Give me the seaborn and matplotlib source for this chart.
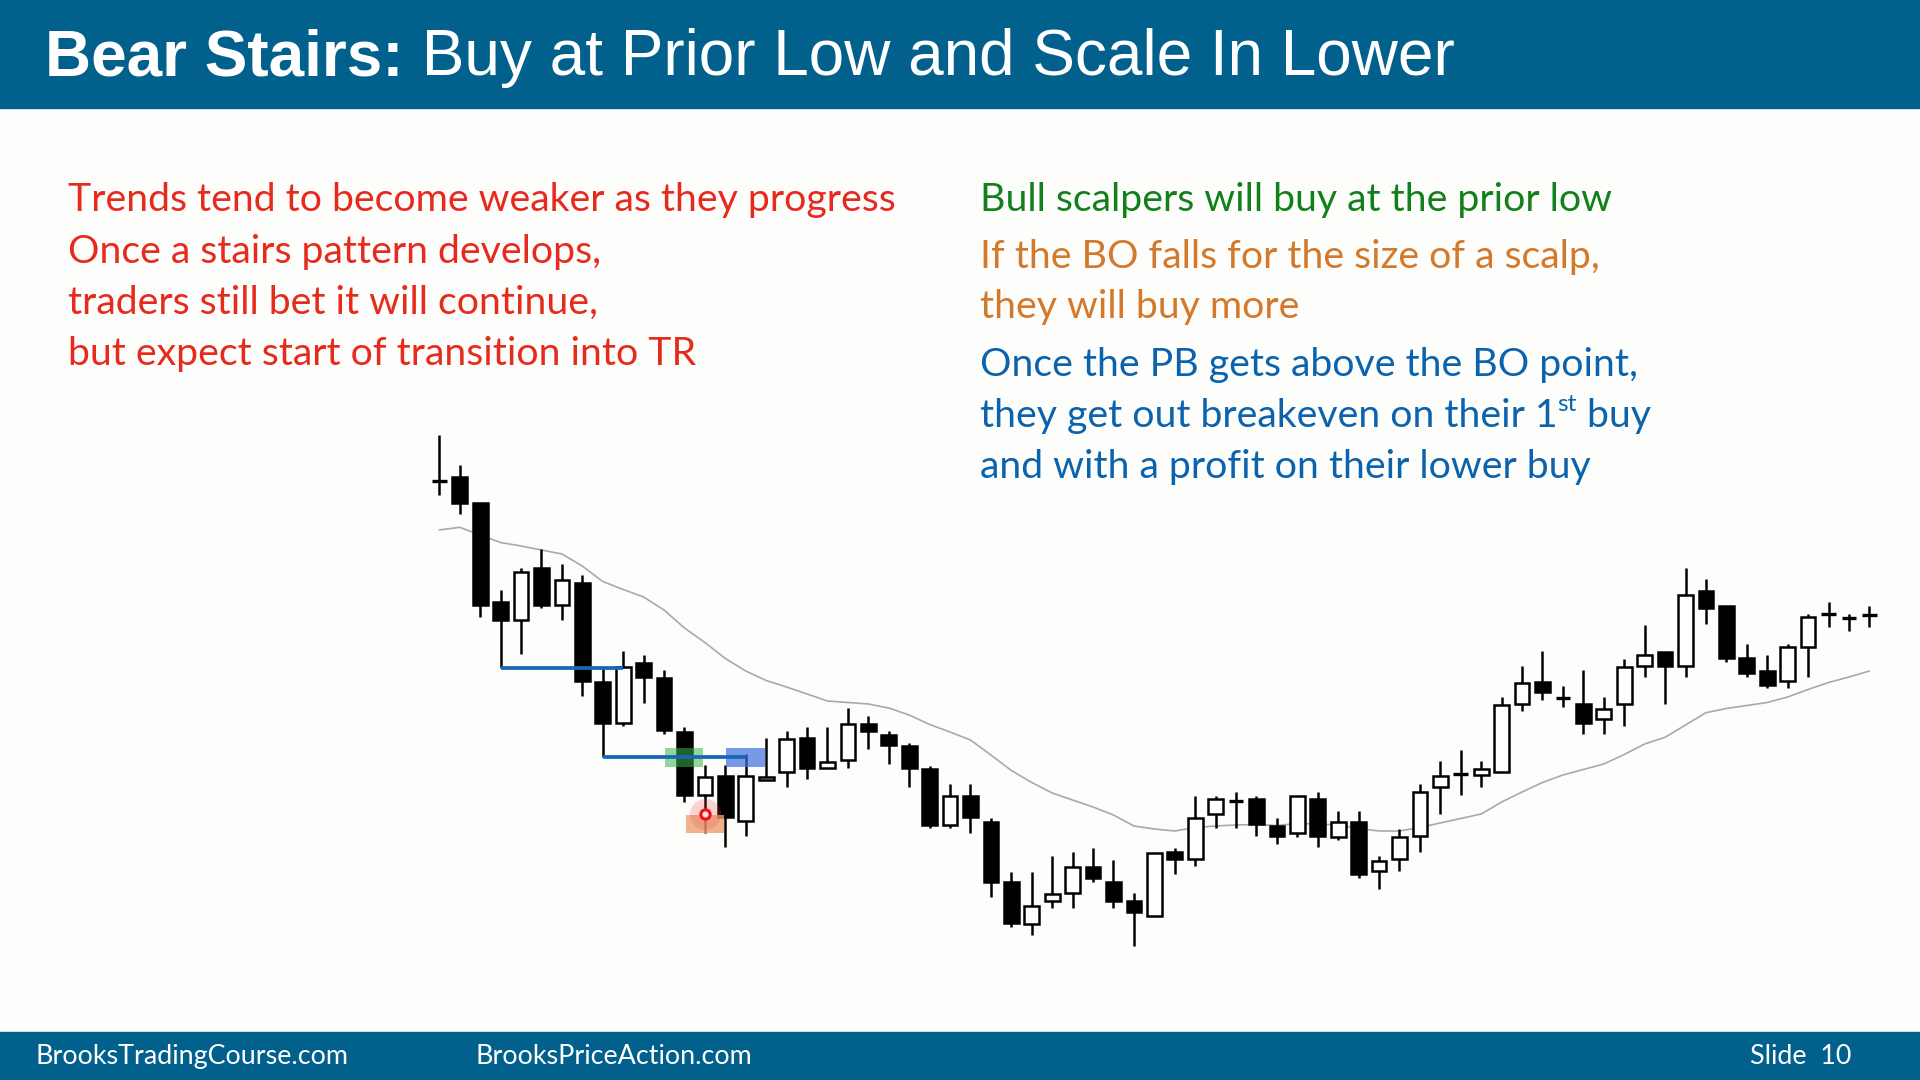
import matplotlib
matplotlib.use("Agg")
import numpy as np
import pandas as pd
import matplotlib.pyplot as plt
import seaborn as sns
from matplotlib.patches import Rectangle

# --- Données des bougies (prix) ---
opens = [519, 523, 497, 398, 380, 432, 395, 417, 318, 277, 337, 322, 268, 205, 224,
         179, 220, 228, 262, 232, 240, 276, 265, 254, 231, 175, 204, 178, 118, 76,
         99, 107, 133, 118, 99, 84, 148, 141, 186, 199, 201, 174, 167, 201, 163,
         178, 129, 141, 164, 213, 226, 225, 228, 296, 318, 302, 296, 281, 296, 334,
         348, 334, 409, 394, 342, 329, 319, 353, 386, 382, 385]
highs = [565, 535, 497, 410, 432, 451, 436, 425, 333, 349, 345, 330, 273, 235, 235,
         246, 262, 269, 273, 273, 292, 284, 269, 257, 234, 216, 216, 182, 128, 128,
         144, 148, 152, 140, 107, 147, 152, 204, 204, 208, 204, 182, 204, 208, 189,
         189, 144, 171, 216, 239, 250, 239, 303, 334, 349, 314, 330, 303, 341, 375,
         348, 432, 421, 394, 356, 345, 356, 386, 398, 386, 394]
lows = [505, 486, 383, 332, 346, 392, 380, 304, 243, 274, 297, 266, 198, 167, 153,
        164, 220, 213, 221, 232, 232, 251, 236, 213, 172, 172, 167, 103, 73, 65,
        92, 92, 118, 92, 54, 84, 126, 134, 172, 172, 164, 156, 163, 153, 160,
        122, 111, 129, 148, 186, 205, 213, 228, 289, 300, 293, 266, 266, 274, 323,
        296, 323, 376, 338, 323, 312, 312, 323, 373, 369, 373]
closes = [519, 497, 395, 380, 428, 395, 420, 319, 277, 333, 323, 270, 205, 223, 183,
          224, 223, 261, 232, 238, 276, 269, 255, 232, 175, 204, 183, 118, 77, 94,
          106, 133, 122, 99, 88, 147, 141, 182, 201, 199, 176, 164, 204, 164, 178,
          126, 139, 163, 208, 224, 226, 231, 295, 317, 308, 302, 277, 291, 333, 345,
          334, 405, 392, 342, 327, 315, 353, 383, 386, 382, 385]

# moyenne mobile (ligne grise)
ma = [470, 472.7, 465, 457.5, 454, 450, 446, 434, 418.5, 410.5, 403, 390, 372, 357.5,
      341.5, 329, 319.5, 313, 306, 299, 297.5, 296, 292, 285, 275.5, 268, 260, 245,
      229.5, 217.5, 207, 200, 193, 185, 174, 171, 169, 172.5, 174, 175, 175.5, 174.5,
      176.5, 176, 175, 171.5, 169, 169, 172.5, 177, 181.5, 186, 198, 208, 217.5, 225,
      230.5, 236, 245.5, 256, 262.7, 275, 287.3, 291.5, 294.5, 297.5, 303, 310.5,
      317.5, 323, 329]

# niveaux annotés (plus bas précédents)
prior_low_1 = 332      # plus bas de la bougie 4
prior_low_1_bars = (3, 9)
prior_low_2 = 243      # plus bas de la bougie 9
prior_low_2_bars = (8, 15)
zone_entry = (233, 252)   # zones d'achat vert / bleu
zone_scale = (167, 185)   # zone orange
green_bar = 12
blue_bar = 15
orange_bar = 13
scale_buy_price = 186

left_lines = ["Trends tend to become weaker as they progress",
              "Once a stairs pattern develops,",
              "traders still bet it will continue,",
              "but expect start of transition into TR"]
right_green = "Bull scalpers will buy at the prior low"
right_orange = ["If the BO falls for the size of a scalp,", "they will buy more"]
right_blue = ["Once the PB gets above the BO point,",
              "they get out breakeven on their 1",
              "and with a profit on their lower buy"]

df = pd.DataFrame({"open": opens, "high": highs, "low": lows, "close": closes, "ma": ma})
df["bar"] = np.arange(len(df))

HEADER = "#01608c"
RED = "#e62a1c"
GREEN = "#12801a"
ORANGE = "#d4782a"
BLUE = "#0b63ad"

sns.set_theme(style="white")
plt.rcParams["font.family"] = ["Lato", "DejaVu Sans"]

W, H = 1920, 1080
fig = plt.figure(figsize=(19.2, 10.8), dpi=100)
fig.patch.set_facecolor("#fdfdfc")


def fx(x):
    return x / W


def fy(y):
    return 1 - y / H


# bandeaux haut et bas
fig.add_artist(Rectangle((0, fy(108)), 1, 108 / H, transform=fig.transFigure,
                         color=HEADER, zorder=0))
fig.add_artist(Rectangle((0, 0), 1, 48 / H, transform=fig.transFigure,
                         color=HEADER, zorder=0))

renderer = fig.canvas.get_renderer()

# titre
t1 = fig.text(fx(45), fy(75), "Bear Stairs:", color="white", fontsize=46,
              fontweight="bold", family=["Liberation Sans"], va="baseline")
bb = t1.get_window_extent(renderer)
fig.text(bb.x1 / W, fy(75), " Buy at Prior Low and Scale In Lower", color="white",
         fontsize=46, family=["Liberation Sans"], va="baseline")

# pied de page
FS = 19.4
fig.text(fx(35), fy(1064), "BrooksTradingCourse.com", color="white", fontsize=FS,
         va="baseline")
fig.text(fx(475), fy(1064), "BrooksPriceAction.com", color="white", fontsize=FS,
         va="baseline")
fig.text(fx(1851), fy(1064), "Slide  10", color="white", fontsize=FS, va="baseline",
         ha="right")

# texte gauche
TS = 28.3
for i, line in enumerate(left_lines):
    fig.text(fx(68), fy(211 + i * 51.5), line, color=RED, fontsize=TS, va="baseline")

# texte droite
fig.text(fx(980), fy(211), right_green, color=GREEN, fontsize=TS, va="baseline")
fig.text(fx(980), fy(268), right_orange[0], color=ORANGE, fontsize=TS, va="baseline")
fig.text(fx(980), fy(318), right_orange[1], color=ORANGE, fontsize=TS, va="baseline")
fig.text(fx(980), fy(376), right_blue[0], color=BLUE, fontsize=TS, va="baseline")
t2 = fig.text(fx(980), fy(427), right_blue[1], color=BLUE, fontsize=TS, va="baseline")
bb = t2.get_window_extent(renderer)
t3 = fig.text(bb.x1 / W, fy(411), "st", color=BLUE, fontsize=TS * 0.62, va="baseline")
bb = t3.get_window_extent(renderer)
fig.text(bb.x1 / W, fy(427), " buy", color=BLUE, fontsize=TS, va="baseline")
fig.text(fx(980), fy(478), right_blue[2], color=BLUE, fontsize=TS, va="baseline")

# --- graphique en chandeliers ---
ax = fig.add_axes([fx(420), 1 - 960 / H, 1470 / W, 540 / H])
ax.set_xlim(-0.945, 71.01)
ax.set_ylim(40, 580)
ax.axis("off")

sns.lineplot(data=df, x="bar", y="ma", ax=ax, color="#a9a9a9", lw=1.2,
             estimator=None, zorder=1)

LW = 1.8
BW = 0.72
ax.vlines(df["bar"], df["low"], df["high"], color="black", lw=LW, zorder=2)

bull = df[df["close"] > df["open"]]
bear = df[df["close"] < df["open"]]
doji = df[df["close"] == df["open"]]
ax.bar(bull["bar"], bull["close"] - bull["open"], bottom=bull["open"], width=BW,
       facecolor="white", edgecolor="black", lw=LW, zorder=3)
ax.bar(bear["bar"], bear["open"] - bear["close"], bottom=bear["close"], width=BW,
       facecolor="black", edgecolor="black", lw=LW, zorder=3)
ax.hlines(doji["close"], doji["bar"] - BW / 2, doji["bar"] + BW / 2, color="black",
          lw=LW + 0.6, zorder=3)

# zones colorées
ax.add_patch(Rectangle((green_bar - 0.93, zone_entry[0]), 1.86, zone_entry[1] - zone_entry[0],
                       facecolor="#3cb44b", alpha=0.55, lw=0, zorder=4))
ax.add_patch(Rectangle((blue_bar - 0.95, zone_entry[0]), 1.9, zone_entry[1] - zone_entry[0],
                       facecolor="#3f6fe0", alpha=0.7, lw=0, zorder=4))
ax.add_patch(Rectangle((orange_bar - 0.93, zone_scale[0]), 1.86, zone_scale[1] - zone_scale[0],
                       facecolor="#eba170", alpha=0.8, lw=0, zorder=4))

# lignes des plus bas précédents
ax.hlines(prior_low_1, *prior_low_1_bars, color="#1668b5", lw=2.7, zorder=5)
ax.hlines(prior_low_2, *prior_low_2_bars, color="#1668b5", lw=2.7, zorder=5)

# point d'achat plus bas
ax.scatter([orange_bar], [scale_buy_price], s=500, color="#ff4040", alpha=0.22,
           lw=0, zorder=6)
ax.scatter([orange_bar], [scale_buy_price], s=45, facecolor="#ffe0e0",
           edgecolor="#f01010", lw=2.2, zorder=7)

fig.savefig("out.png", dpi=100, facecolor=fig.get_facecolor())
